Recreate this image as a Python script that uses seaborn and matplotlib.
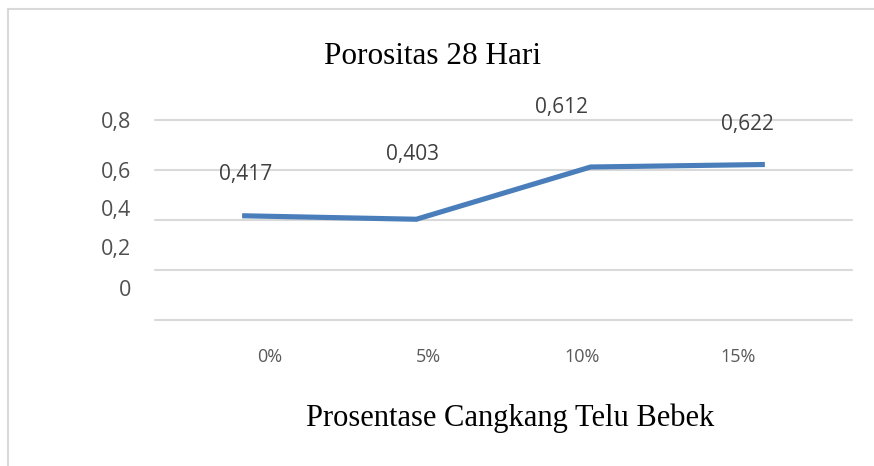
import matplotlib
matplotlib.use("Agg")
import matplotlib.pyplot as plt
from matplotlib.lines import Line2D
import seaborn as sns
import pandas as pd

categories = ["0%", "5%", "10%", "15%"]
values = [0.417, 0.403, 0.612, 0.622]
value_labels = ["0,417", "0,403", "0,612", "0,622"]
y_tick_values = [0.0, 0.2, 0.4, 0.6, 0.8]
y_tick_labels = ["0", "0,2", "0,4", "0,6", "0,8"]
title = "Porositas 28 Hari"
xlabel = "Prosentase Cangkang Telu Bebek"

sns.set_theme(style="white")
plt.rcParams["font.family"] = ["Open Sans", "DejaVu Sans"]

W, H = 874, 466
fig = plt.figure(figsize=(W / 100, H / 100), dpi=100)
fig.patch.set_facecolor("white")

left, right, top, bottom = 155, 852, 120, 320
ax = fig.add_axes([left / W, 1 - bottom / H, (right - left) / W, (bottom - top) / H])

df = pd.DataFrame({"cat": categories, "val": values})
sns.lineplot(data=df, x="cat", y="val", ax=ax, color="#4a7ebb", linewidth=3.7,
             solid_capstyle="butt", solid_joinstyle="miter", sort=False)

ax.set_xlim(-0.5, len(categories) - 0.5)
ax.set_ylim(0, 0.8)

# gridlines at the real value positions
for v in y_tick_values:
    ax.axhline(v, color="#d9d9d9", linewidth=1.5, zorder=0, clip_on=False)

for s in ax.spines.values():
    s.set_visible(False)

# tick labels (placed where the reference shows them)
ytick_pos = [0.128, 0.292, 0.448, 0.6, 0.8]
ax.set_yticks(ytick_pos)
ax.set_yticklabels(y_tick_labels, fontsize=15.5, color="#505050")
xtick_pos = [0.16, 1.067, 1.95, 2.846]
ax.set_xticks(xtick_pos)
ax.set_xticklabels(categories, fontsize=13, color="#595959")
ax.tick_params(axis="y", length=0, pad=17)
ax.tick_params(axis="x", length=0, pad=20)
ax.set_xlabel("")
ax.set_ylabel("")

# data labels
offsets = [(4, 41), (-4, 65), (-29, 59), (-17, 40)]
for i, (v, lab) in enumerate(zip(values, value_labels)):
    ax.annotate(lab, (i, v), xytext=offsets[i], textcoords="offset pixels",
                ha="center", va="center", fontsize=15, color="#404040",
                annotation_clip=False)

fig.text(432 / W, 1 - 57 / H, title, ha="center", va="center",
         fontsize=22.5, family="Liberation Serif", color="black")
fig.text(510 / W, 1 - 418 / H, xlabel, ha="center", va="center",
         fontsize=22, family="Liberation Serif", color="black")

# outer frame (left and top edges)
fig.add_artist(Line2D([8 / W, 8 / W], [0, 1 - 9 / H], transform=fig.transFigure,
                      color="#d9d9d9", linewidth=1.5))
fig.add_artist(Line2D([8 / W, 1], [1 - 9 / H, 1 - 9 / H], transform=fig.transFigure,
                      color="#d9d9d9", linewidth=1.5))

fig.savefig("out.png", dpi=100)
